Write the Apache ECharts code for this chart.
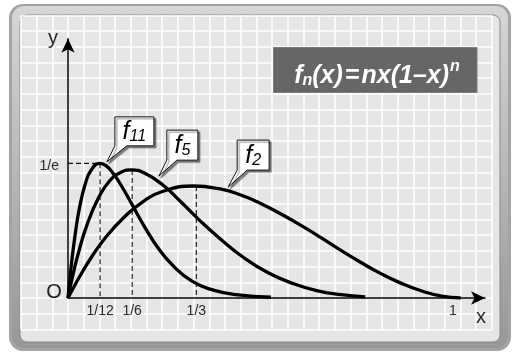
<!DOCTYPE html>
<html>
<head>
<meta charset="utf-8">
<script src="https://cdn.jsdelivr.net/npm/echarts@6/dist/echarts.min.js"></script>
<style>
  html, body { margin: 0; padding: 0; background: #fff; }
  #chart { width: 512px; height: 352px; }
</style>
</head>
<body>
<div id="chart"></div>
<script>
// f_n(x) = n x (1-x)^n for n = 11, 5, 2 — sampled values
const f11X = [0, 0.005, 0.010, 0.020, 0.030, 0.045, 0.060, 0.083, 0.0995, 0.119, 0.139, 0.165, 0.197, 0.235, 0.274, 0.322, 0.373, 0.436, 0.527];
const f11Y = [0, 0.054, 0.103, 0.184, 0.247, 0.312, 0.349, 0.368, 0.361, 0.338, 0.306, 0.258, 0.198, 0.135, 0.087, 0.046, 0.023, 0.009, 0.002];

const f5X = [0, 0.010, 0.025, 0.050, 0.080, 0.109, 0.139, 0.165, 0.197, 0.245, 0.293, 0.342, 0.395, 0.457, 0.520, 0.583, 0.646, 0.709, 0.772];
const f5Y = [0, 0.050, 0.115, 0.202, 0.275, 0.321, 0.344, 0.350, 0.342, 0.310, 0.263, 0.212, 0.162, 0.110, 0.069, 0.040, 0.020, 0.009, 0.003];

const f2X = [0, 0.010, 0.030, 0.060, 0.0995, 0.149, 0.197, 0.245, 0.325, 0.395, 0.447, 0.499, 0.552, 0.604, 0.657, 0.709, 0.761, 0.814, 0.866, 0.919, 0.971, 1.02];
const f2Y = [0, 0.020, 0.058, 0.110, 0.168, 0.224, 0.265, 0.291, 0.306, 0.298, 0.282, 0.259, 0.230, 0.199, 0.165, 0.130, 0.097, 0.066, 0.040, 0.019, 0.005, 0];

// axis tick marks
const INV_E = 1 / Math.E;
const xTickValues = [1 / 12, 1 / 6, 1 / 3, 1];
const xTickLabels = ['1/12', '1/6', '1/3', '1'];
const yTickValues = [INV_E];
const yTickLabels = ['1/e'];

// dashed guides: maxima of each curve
const guideX = [1 / 12, 1 / 6, 1 / 3];
const guideTop = [INV_E, 0.350, 0.306];

// callout labels: subscript and the curve point the tail touches
const calloutSubs = ['11', '5', '2'];
const calloutTips = [[0.101, 0.372], [0.236, 0.333], [0.416, 0.303]];

const FONT = '"Liberation Sans", Arial, Helvetica, sans-serif';
const chart = echarts.init(document.getElementById('chart'), null, { renderer: 'canvas' });

const pairs = (xs, ys) => xs.map((x, i) => [x, ys[i]]);
const lookup = (vals, labels) => v => {
  for (let i = 0; i < vals.length; i++) if (Math.abs(v - vals[i]) < 1e-6) return labels[i];
  return '';
};

const curve = (name, xs, ys) => ({
  type: 'line', name, data: pairs(xs, ys), xAxisIndex: 0, yAxisIndex: 0,
  symbol: 'none', smooth: true, z: 5, silent: true,
  lineStyle: { color: '#000', width: 3.3 }
});
const dashStyle = { color: '#111', width: 1.1, type: [5, 3] };
const guide = data => ({
  type: 'line', data, xAxisIndex: 0, yAxisIndex: 0, symbol: 'none', z: 4, silent: true,
  lineStyle: dashStyle
});

const series = [curve('f11', f11X, f11Y), curve('f5', f5X, f5Y), curve('f2', f2X, f2Y)];
series.push(guide([[0, INV_E], [1 / 12, INV_E]]));
guideX.forEach((gx, i) => series.push(guide([[gx, guideTop[i]], [gx, 0]])));

const bold = { fontWeight: 'bold', fontStyle: 'italic', fontFamily: FONT, color: '#fff' };

const frame = [
  { type: 'rect', id: 'frameOuter', z: -100, shape: { x: 9, y: 4, width: 502, height: 347, r: 14 },
    style: { fill: '#a4a4a4' } },
  { type: 'rect', id: 'frameBevel', z: -99, shape: { x: 12, y: 6, width: 496, height: 342, r: 12 },
    style: { fill: new echarts.graphic.LinearGradient(0, 0, 0, 1, [
      { offset: 0, color: '#d6d6d6' }, { offset: 1, color: '#979797' }]) } },
  { type: 'rect', id: 'frameInner', z: -98, shape: { x: 20, y: 15, width: 480, height: 327, r: 7 },
    style: { fill: '#e5e5e5', stroke: '#888', lineWidth: 1 } },
  { type: 'rect', id: 'formulaBox', z: 50, shape: { x: 273.5, y: 47.5, width: 203.5, height: 45 },
    style: { fill: '#666666', stroke: '#7c7c7c', lineWidth: 1 } },
  { type: 'text', id: 'formulaText', z: 51, x: 377, y: 71,
    style: {
      text: '{f|f}{sub|n}{m|(x)\u200A=\u200Anx(1–x)}{sup|n}',
      align: 'center', verticalAlign: 'middle', fill: '#fff',
      rich: {
        f: Object.assign({ fontSize: 25, lineHeight: 35, verticalAlign: 'bottom' }, bold),
        m: Object.assign({ fontSize: 25, lineHeight: 35, verticalAlign: 'bottom' }, bold),
        sub: Object.assign({ fontSize: 16, lineHeight: 16, verticalAlign: 'bottom' }, bold),
        sup: Object.assign({ fontSize: 16, lineHeight: 16, verticalAlign: 'top', padding: [5, 0, 0, 1] }, bold)
      }
    } },
  { type: 'text', id: 'originLabel', z: 10, x: 54, y: 292,
    style: { text: 'O', fontSize: 20, fontFamily: FONT, fill: '#222', align: 'center', verticalAlign: 'middle' } }
];

chart.setOption({
  backgroundColor: '#fff',
  animation: false,
  grid: [
    { left: 68, top: 38.7, width: 417, height: 259.3 },
    { left: 20.9, top: 15.4, width: 471, height: 314 }
  ],
  xAxis: [
    {
      type: 'value', gridIndex: 0, min: 0, max: 1.0831, z: 3,
      axisLine: { onZero: false, symbol: ['none', 'arrow'], symbolSize: [10, 14], lineStyle: { color: '#000', width: 1.5 } },
      axisTick: { show: false }, splitLine: { show: false },
      axisLabel: { customValues: xTickValues, formatter: lookup(xTickValues, xTickLabels),
        color: '#2a2a2a', fontSize: 14, fontFamily: FONT, margin: 6 },
      name: 'x', nameLocation: 'end', nameGap: -4,
      nameTextStyle: { fontSize: 20, fontFamily: FONT, color: '#2a2a2a', align: 'center', verticalAlign: 'top', padding: [9, 0, 0, 0] }
    },
    {
      type: 'value', gridIndex: 1, min: -3, max: 27, interval: 1,
      axisLine: { show: false }, axisTick: { show: false }, axisLabel: { show: false },
      splitLine: { show: true, lineStyle: { color: '#ffffff', width: 1.6 } }
    }
  ],
  yAxis: [
    {
      type: 'value', gridIndex: 0, min: 0, max: 0.7085, z: 3,
      axisLine: { onZero: false, symbol: ['none', 'arrow'], symbolSize: [10, 14], lineStyle: { color: '#000', width: 1.5 } },
      axisTick: { show: false }, splitLine: { show: false },
      axisLabel: { customValues: yTickValues, formatter: lookup(yTickValues, yTickLabels),
        color: '#2a2a2a', fontSize: 14, fontFamily: FONT, margin: 9, verticalAlign: 'top', lineHeight: 6 },
      name: 'y', nameLocation: 'end', nameGap: 0,
      nameTextStyle: { fontSize: 20, fontFamily: FONT, color: '#2a2a2a', align: 'right', verticalAlign: 'middle', padding: [0, 10, 0, 0] }
    },
    {
      type: 'value', gridIndex: 1, min: -2, max: 18, interval: 1,
      axisLine: { show: false }, axisTick: { show: false }, axisLabel: { show: false },
      splitLine: { show: true, lineStyle: { color: '#ffffff', width: 1.6 } }
    }
  ],
  graphic: frame,
  series
});

// speech-bubble labels anchored to points on the curves
const boxGeom = [
  { dx: 8, dy: -45, w: 39, h: 29, tail: 12 },
  { dx: 8, dy: -46, w: 31, h: 30, tail: 10 },
  { dx: 9, dy: -47, w: 32, h: 30, tail: 10 }
];
const bubbles = [];
calloutTips.forEach((tip, i) => {
  const [tx, ty] = chart.convertToPixel({ gridIndex: 0 }, tip);
  const g = boxGeom[i];
  const bx = tx + g.dx, by = ty + g.dy;
  bubbles.push({
    type: 'polygon', id: 'bubble' + i, z: 60,
    shape: { points: [[bx, by], [bx + g.w, by], [bx + g.w, by + g.h], [bx + g.tail, by + g.h], [tx, ty], [bx, by + g.h]] },
    style: { fill: '#fff', stroke: '#111', lineWidth: 1,
      shadowColor: 'rgba(0,0,0,0.45)', shadowOffsetX: 2, shadowOffsetY: 2, shadowBlur: 1 }
  });
  bubbles.push({
    type: 'text', id: 'bubbleText' + i, z: 61, x: bx + g.w / 2, y: by + g.h / 2 + 1,
    style: {
      text: '{f|f}{s|' + calloutSubs[i] + '}', align: 'center', verticalAlign: 'middle',
      rich: {
        f: { fontSize: 25, fontStyle: 'italic', fontFamily: FONT, color: '#111', lineHeight: 25, verticalAlign: 'bottom' },
        s: { fontSize: 16, fontStyle: 'italic', fontFamily: FONT, color: '#111', lineHeight: 16, verticalAlign: 'bottom' }
      }
    }
  });
});
chart.setOption({ graphic: bubbles });
</script>
</body>
</html>
